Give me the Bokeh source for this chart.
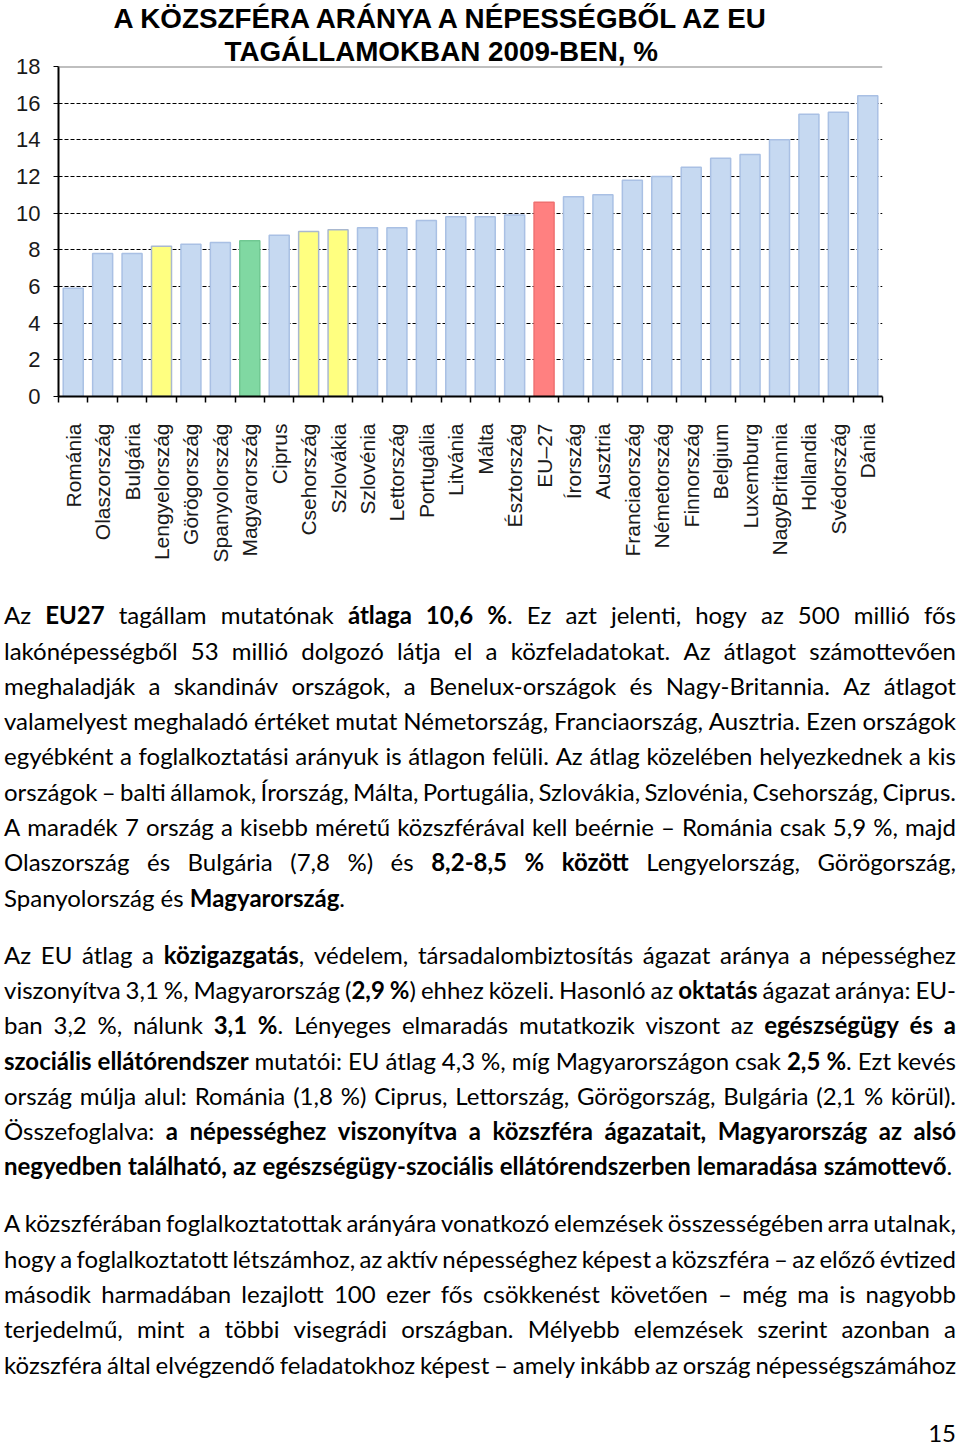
import math
from bokeh.plotting import figure
from bokeh.models import (Range1d, LinearAxis, FixedTicker, Span, Title, Div,
                          ColumnDataSource)
from bokeh.layouts import column
from bokeh.transform import factor_cmap
from bokeh.embed import file_html
from bokeh.resources import INLINE

# ---------------- data ----------------
countries = ["Románia", "Olaszország", "Bulgária", "Lengyelország", "Görögország",
             "Spanyolország", "Magyarország", "Ciprus", "Csehország", "Szlovákia",
             "Szlovénia", "Lettország", "Portugália", "Litvánia", "Málta", "Észtország",
             "EU–27", "Írország", "Ausztria", "Franciaország", "Németország", "Finnország",
             "Belgium", "Luxemburg", "NagyBritannia", "Hollandia", "Svédország", "Dánia"]
values = [5.9, 7.8, 7.8, 8.2, 8.3, 8.4, 8.5, 8.8, 9.0, 9.1, 9.2, 9.2, 9.6, 9.8, 9.8, 9.9,
          10.6, 10.9, 11.0, 11.8, 12.0, 12.5, 13.0, 13.2, 14.0, 15.4, 15.5, 16.4]
groups = ["egyéb", "egyéb", "egyéb", "visegrádi", "egyéb", "egyéb", "Magyarország", "egyéb",
          "visegrádi", "visegrádi", "egyéb", "egyéb", "egyéb", "egyéb", "egyéb", "egyéb",
          "EU", "egyéb", "egyéb", "egyéb", "egyéb", "egyéb", "egyéb", "egyéb", "egyéb",
          "egyéb", "egyéb", "egyéb"]
group_names = ["egyéb", "visegrádi", "Magyarország", "EU"]
y_ticks = [0, 2, 4, 6, 8, 10, 12, 14, 16, 18]
title_lines = ["A KÖZSZFÉRA ARÁNYA A NÉPESSÉGBŐL AZ EU", "TAGÁLLAMOKBAN 2009-BEN, %"]

para1 = [
    "Az **EU27** tagállam mutatónak **átlaga 10,6 %**. Ez azt jelenti, hogy az 500 millió fős",
    "lakónépességből 53 millió dolgozó látja el a közfeladatokat. Az átlagot számottevően",
    "meghaladják a skandináv országok, a Benelux-országok és Nagy-Britannia. Az átlagot",
    "valamelyest meghaladó értéket mutat Németország, Franciaország, Ausztria. Ezen országok",
    "egyébként a foglalkoztatási arányuk is átlagon felüli. Az átlag közelében helyezkednek a kis",
    "országok – balti államok, Írország, Málta, Portugália, Szlovákia, Szlovénia, Csehország, Ciprus.",
    "A maradék 7 ország a kisebb méretű közszférával kell beérnie – Románia csak 5,9 %, majd",
    "Olaszország és Bulgária (7,8 %) és **8,2-8,5 % között** Lengyelország, Görögország,",
    "Spanyolország és **Magyarország**.",
]
para2 = [
    "Az EU átlag a **közigazgatás**, védelem, társadalombiztosítás ágazat aránya a népességhez",
    "viszonyítva 3,1 %, Magyarország (**2,9 %**) ehhez közeli. Hasonló az **oktatás** ágazat aránya: EU-",
    "ban 3,2 %, nálunk **3,1 %**. Lényeges elmaradás mutatkozik viszont az **egészségügy és a**",
    "**szociális ellátórendszer** mutatói: EU átlag 4,3 %, míg Magyarországon csak **2,5 %**. Ezt kevés",
    "ország múlja alul: Románia (1,8 %) Ciprus, Lettország, Görögország, Bulgária (2,1 % körül).",
    "Összefoglalva: **a népességhez viszonyítva a közszféra ágazatait, Magyarország az alsó**",
    "**negyedben található, az egészségügy-szociális ellátórendszerben lemaradása számottevő**.",
]
para3 = [
    "A közszférában foglalkoztatottak arányára vonatkozó elemzések összességében arra utalnak,",
    "hogy a foglalkoztatott létszámhoz, az aktív népességhez képest a közszféra – az előző évtized",
    "második harmadában lezajlott 100 ezer fős csökkenést követően – még ma is nagyobb",
    "terjedelmű, mint a többi visegrádi országban. Mélyebb elemzések szerint azonban a",
    "közszféra által elvégzendő feladatokhoz képest – amely inkább az ország népességszámához",
]
page_number = "15"

# ---------------- chart ----------------
FONT = "Liberation Sans"
fill_palette = ["#c6d9f1", "#ffff80", "#80d8a2", "#ff8080"]
line_palette = ["#a9c0e4", "#a9b8cf", "#70c892", "#ef7070"]

n = len(countries)
centers = [i + 0.5 for i in range(n)]          # category slot centres
boundaries = list(range(n + 1))                # category slot edges

src = ColumnDataSource(dict(x=centers, country=countries, value=values, group=groups))

p = figure(width=960, height=580, x_range=Range1d(0, n),
           y_range=Range1d(0, 18), output_backend="svg", toolbar_location=None,
           x_axis_location=None, min_border_left=58, min_border_right=78,
           min_border_top=66, min_border_bottom=184)
p.outline_line_color = None
p.background_fill_color = "white"
p.border_fill_color = "white"

p.title = Title(text=title_lines[0], text_font=FONT, text_font_size="27.8px",
                text_font_style="bold", text_color="#000000", align="left",
                offset=55, standoff=0)
p.add_layout(Title(text=title_lines[1], text_font=FONT, text_font_size="27.8px",
                   text_font_style="bold", text_color="#000000", align="left",
                   offset=166, standoff=0), "above")

p.vbar(x="x", top="value", width=0.68, source=src,
       fill_color=factor_cmap("group", palette=fill_palette, factors=group_names),
       line_color=factor_cmap("group", palette=line_palette, factors=group_names),
       line_width=1.5)

# y axis
yax = p.yaxis[0]
yax.ticker = FixedTicker(ticks=y_ticks)
yax.axis_line_color = "#000000"
yax.axis_line_width = 2
yax.major_tick_out = 5
yax.major_tick_in = 0
yax.major_tick_line_color = "#000000"
yax.minor_tick_line_color = None
yax.major_label_text_font = FONT
yax.major_label_text_font_size = "22px"
yax.major_label_text_color = "#1a1a1a"
yax.major_label_standoff = 13

p.ygrid[0].ticker = FixedTicker(ticks=y_ticks[1:-1])
p.ygrid[0].grid_line_color = "#000000"
p.ygrid[0].grid_line_dash = "4 2"
p.ygrid[0].grid_line_width = 1
for g in p.xgrid:
    g.grid_line_color = None

p.add_layout(Span(location=y_ticks[-1], dimension="width", line_color="#808080",
                  line_width=2))

# x axis: country names at slot centres, tick marks at slot edges
xax = LinearAxis(ticker=FixedTicker(ticks=centers, minor_ticks=boundaries),
                 major_label_overrides={c: name for c, name in zip(centers, countries)},
                 axis_line_color="#000000", axis_line_width=2,
                 major_tick_line_color=None, major_tick_out=0, major_tick_in=0,
                 minor_tick_line_color="#000000", minor_tick_line_width=1.5,
                 minor_tick_out=6, minor_tick_in=0,
                 major_label_orientation=math.pi / 2,
                 major_label_text_font=FONT, major_label_text_font_size="21px",
                 major_label_text_color="#1a1a1a", major_label_standoff=21)
p.add_layout(xax, "below")

# ---------------- body text ----------------
LH = 35.3


def line_words(line, bold):
    out = []
    for tok in line.split(" "):
        parts = tok.split("**")
        html = ""
        for k, part in enumerate(parts):
            if k > 0:
                bold = not bold
            if part:
                html += f"<b>{part}</b>" if bold else part
        out.append(html)
    return out, bold


def para_html(lines, justify_last=False, top=0.0):
    bold = False
    rows = []
    for i, ln in enumerate(lines):
        words, bold = line_words(ln, bold)
        last = (i == len(lines) - 1) and not justify_last
        if last:
            rows.append(f'<div style="height:{LH}px;line-height:{LH}px;white-space:nowrap">'
                        + " ".join(words) + "</div>")
        else:
            rows.append(f'<div style="display:flex;justify-content:space-between;'
                        f'height:{LH}px;line-height:{LH}px;white-space:nowrap">'
                        + "".join(f"<span>{w}</span>" for w in words) + "</div>")
    return f'<div style="margin-top:{top}px">' + "".join(rows) + "</div>"


body = (para_html(para1, top=17.3) + para_html(para2, top=21.7)
        + para_html(para3, justify_last=True, top=21.7)
        + f'<div style="margin-top:40px;height:22px;line-height:22px;text-align:right">'
        f'{page_number}</div>')
html = ('<div style="position:relative;left:4px;width:952px;height:866px;overflow:visible;'
        'font-family:Lato;font-size:24px;color:#000">' + body + '</div>')
div = Div(text=html, width=960, height=868, margin=(0, 0, 0, 0))

layout = column(p, div)
open("out.html", "w").write(file_html(layout, INLINE))
